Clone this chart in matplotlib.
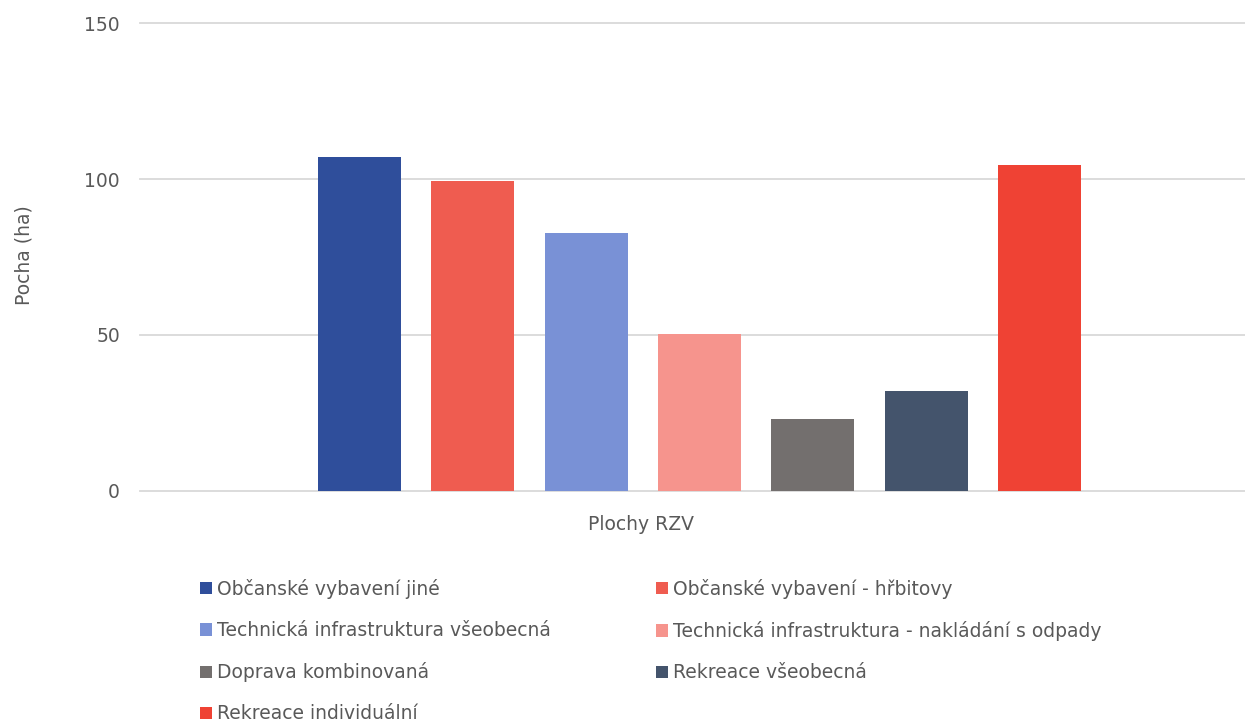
import matplotlib
matplotlib.use("Agg")
import matplotlib.pyplot as plt

# Plochy RZV - výměra podle typu (ha)
series = [
    "Občanské vybavení jiné",
    "Občanské vybavení - hřbitovy",
    "Technická infrastruktura všeobecná",
    "Technická infrastruktura - nakládání s odpady",
    "Doprava kombinovaná",
    "Rekreace všeobecná",
    "Rekreace individuální",
]
values = [107.1, 99.4, 82.7, 50.2, 22.9, 31.9, 104.5]
colors = ["#2f4e9b", "#ef5c50", "#7991d6", "#f6948d", "#736f6e", "#44546c", "#ef4234"]
category = "Plochy RZV"
yticks = [0, 50, 100, 150]

text_color = "#595959"
grid_color = "#d9d9d9"
fs = 13.5

plt.rcParams["font.family"] = "DejaVu Sans"

fig = plt.figure(figsize=(12.45, 7.26), dpi=100)
ax = fig.add_axes([140 / 1245, 1 - 490.5 / 726, 1105 / 1245, 467 / 726])

bars = []
for i, (name, v, c) in enumerate(zip(series, values, colors)):
    b = ax.bar(i, v, width=0.733, color=c, label=name, zorder=3)
    bars.append(b)

ax.set_xlim(-1.937, 7.815)
ax.set_ylim(0, 150)
ax.set_yticks(yticks)
ax.yaxis.grid(True, color=grid_color, linewidth=1.3, zorder=0)
for line in ax.get_ygridlines():
    line.set_clip_on(False)
for s in ax.spines.values():
    s.set_visible(False)
ax.tick_params(axis="both", length=0, colors=text_color, labelsize=fs)
ax.tick_params(axis="y", pad=14.5)
ax.tick_params(axis="x", pad=18)

# category label sits under the group
ax.set_xticks([2.485])
ax.set_xticklabels([category])

fig.text(24 / 1245, 1 - 255 / 726, "Pocha (ha)", rotation=90, ha="center", va="center",
         color=text_color, fontsize=fs)

# legend in two columns, row by row
left_idx = [0, 2, 4, 6]
right_idx = [1, 3, 5]
legend_kw = dict(frameon=False, handlelength=0.62, handleheight=0.62, handletextpad=0.3,
                 labelspacing=1.18, fontsize=fs, labelcolor=text_color, borderpad=0,
                 borderaxespad=0)
leg1 = fig.legend([bars[i] for i in left_idx], [series[i] for i in left_idx],
                  loc="upper left", bbox_to_anchor=(200 / 1245, 1 - 579 / 726), **legend_kw)
leg2 = fig.legend([bars[i] for i in right_idx], [series[i] for i in right_idx],
                  loc="upper left", bbox_to_anchor=(656 / 1245, 1 - 579 / 726), **legend_kw)

fig.savefig("out.png", dpi=100, facecolor="white")
